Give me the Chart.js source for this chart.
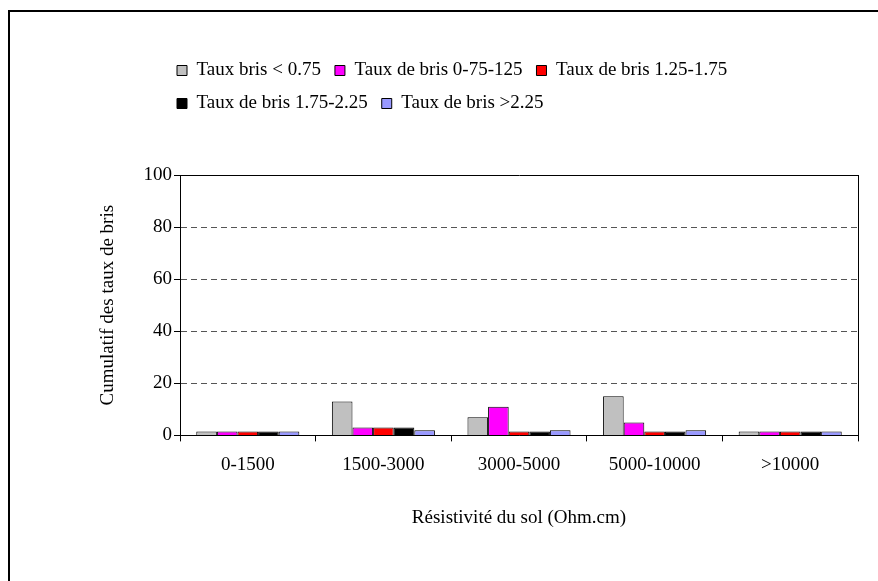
<!DOCTYPE html>
<html>
<head>
<meta charset="utf-8">
<script src="https://cdn.jsdelivr.net/npm/chart.js@4/dist/chart.umd.min.js"></script>
<style>
  html, body { margin: 0; padding: 0; background: #fff; }
  #wrap { width: 878px; height: 581px; }
</style>
</head>
<body>
<div id="wrap"><canvas id="chart" width="878" height="581"></canvas></div>
<script>
// Data
const categories = ['0-1500', '1500-3000', '3000-5000', '5000-10000', '>10000'];
const seriesNames = ['Taux bris < 0.75', 'Taux de bris 0-75-125', 'Taux de bris 1.25-1.75',
                     'Taux de bris 1.75-2.25', 'Taux de bris >2.25'];
const tauxInf075 = [0, 13, 7, 15, 0];
const taux075125 = [0, 3, 11, 5, 0];
const taux125175 = [0, 3, 1, 1, 0];
const taux175225 = [0, 3, 1, 1, 0];
const tauxSup225 = [0, 2, 2, 2, 0];
const yTicks = [0, 20, 40, 60, 80, 100];

const colors = ['#C0C0C0', '#FF00FF', '#FF0000', '#000000', '#9999FF'];
const allData = [tauxInf075, taux075125, taux125175, taux175225, tauxSup225];

const font = { family: '"Liberation Serif", "Times New Roman", serif', size: 19 };
Chart.defaults.font.family = font.family;
Chart.defaults.font.size = font.size;
Chart.defaults.color = '#000';

// frame of the chart object (only left and top edges are visible)
const framePlugin = {
    id: 'frame',
    beforeDraw(chart) {
        const ctx = chart.ctx;
        ctx.save();
        ctx.strokeStyle = '#000';
        ctx.lineWidth = 2;
        ctx.beginPath();
        ctx.moveTo(9, chart.height);
        ctx.lineTo(9, 11);
        ctx.lineTo(chart.width, 11);
        ctx.stroke();
        ctx.restore();
    }
};

// legend: 3 items on the first row, left aligned, with room below it
const legendPlugin = {
    id: 'legendLayout',
    afterInit(chart) {
        const lg = chart.legend;
        const fit = lg.fit;
        lg.fit = function () {
            this.maxWidth = 620;
            fit.call(this);
            this.height += 52;
        };
    },
    beforeDraw(chart) {
        chart.legend.left = 163;
        chart.legend.right = 163 + 620;
    }
};

new Chart(document.getElementById('chart'), {
    type: 'bar',
    data: {
        labels: categories,
        datasets: allData.map((d, i) => ({
            label: seriesNames[i],
            data: d,
            backgroundColor: colors[i],
            borderColor: '#000',
            borderWidth: 1,
            minBarLength: 4,
            barPercentage: 1.0,
            categoryPercentage: 0.76
        }))
    },
    options: {
        responsive: false,
        animation: false,
        layout: { padding: { top: 47, left: 95, right: 20, bottom: 52 } },
        plugins: {
            legend: {
                align: 'start',
                labels: {
                    boxWidth: 10,
                    boxHeight: 10,
                    padding: 14,
                    color: '#000',
                    font: font
                }
            },
            tooltip: { enabled: false }
        },
        scales: {
            x: {
                grid: {
                    offset: true,
                    drawOnChartArea: true,
                    color: c => c.index === undefined ? '#000' : 'rgba(0,0,0,0)',
                    tickColor: '#000',
                    tickLength: 6
                },
                border: { color: '#000', width: 1 },
                ticks: { color: '#000', font: font, padding: 12 },
                title: {
                    display: true,
                    text: 'Résistivité du sol (Ohm.cm)',
                    color: '#000',
                    font: font,
                    padding: { top: 18, bottom: 0 }
                }
            },
            y: {
                min: 0,
                max: 100,
                afterFit(scale) { scale.width = 85; },
                afterBuildTicks(scale) { scale.ticks = yTicks.map(v => ({ value: v })); },
                grid: {
                    color: c => (c.tick && c.tick.value === 100) ? '#000' : '#555',
                    tickColor: '#000',
                    tickLength: 6
                },
                border: {
                    color: '#000',
                    width: 1,
                    dash: c => (c.tick && c.tick.value > 0 && c.tick.value < 100) ? [6, 4] : []
                },
                ticks: { color: '#000', font: font, padding: 2 },
                title: {
                    display: true,
                    text: 'Cumulatif des taux de bris',
                    color: '#000',
                    font: font,
                    padding: { top: 2, bottom: 0 }
                }
            }
        }
    },
    plugins: [framePlugin, legendPlugin]
});
</script>
</body>
</html>
